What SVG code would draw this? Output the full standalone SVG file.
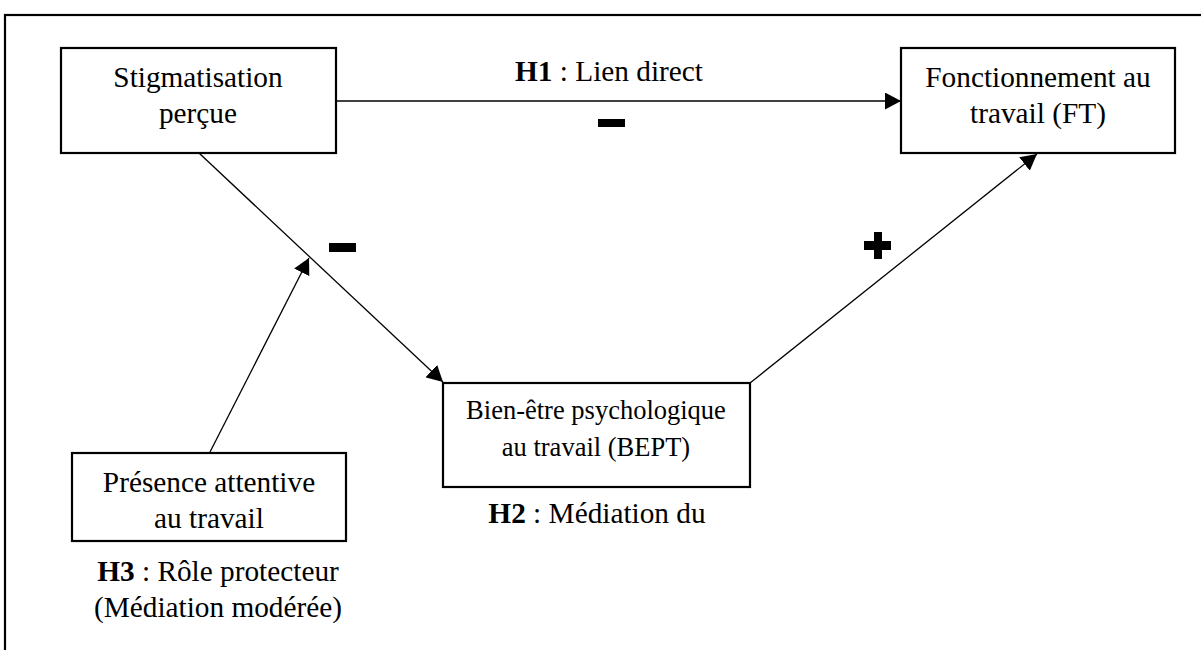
<svg xmlns="http://www.w3.org/2000/svg" width="1201" height="650" viewBox="0 0 1201 650">
<style>
.box{fill:#fff;stroke:#000;stroke-width:2.2}
.t{font-family:"Liberation Serif","Times New Roman",serif;font-size:29.3px;fill:#000;text-anchor:middle}
.ts{font-family:"Liberation Serif","Times New Roman",serif;font-size:26.5px;fill:#000;text-anchor:middle}
.b{font-weight:bold}
.c{stroke:#000;stroke-width:1.3;fill:none}
</style>
<defs>
<marker id="ah" viewBox="0 0 16 17" refX="16" refY="8.5" markerWidth="16" markerHeight="17" markerUnits="userSpaceOnUse" orient="auto">
<path d="M0,0 L16,8.5 L0,17 Z" fill="#000"/>
</marker>
</defs>
<rect width="1201" height="650" fill="#fff"/>
<rect x="5" y="15" width="1220" height="700" fill="none" stroke="#000" stroke-width="2.2"/>
<g id="connectors">
<line class="c" x1="337" y1="101" x2="901" y2="101" marker-end="url(#ah)"/>
<line class="c" x1="199" y1="153" x2="443" y2="382" marker-end="url(#ah)"/>
<line class="c" x1="210" y1="452" x2="309" y2="258" marker-end="url(#ah)"/>
<line class="c" x1="750" y1="383" x2="1037" y2="154" marker-end="url(#ah)"/>
<rect x="598" y="119" width="27" height="8" fill="#000"/>
<rect x="329" y="243" width="27" height="9" fill="#000"/>
<path d="M874,232 h8 v9 h9 v9 h-9 v9 h-8 v-9 h-10 v-9 h10 z" fill="#000"/>
<text class="t" x="609" y="81"><tspan class="b">H1</tspan> : Lien direct</text>
</g>
<g id="stig">
<rect class="box" x="61" y="48" width="275" height="105"/>
<text class="t" x="198" y="87">Stigmatisation</text>
<text class="t" x="198" y="123">perçue</text>
</g>
<g id="ft">
<rect class="box" x="901" y="48" width="274" height="105"/>
<text class="t" x="1038" y="87">Fonctionnement au</text>
<text class="t" x="1038" y="123">travail (FT)</text>
</g>
<g id="bept">
<rect class="box" x="443" y="383" width="307" height="104"/>
<text class="ts" x="596" y="419">Bien-être psychologique</text>
<text class="ts" x="596" y="456">au travail (BEPT)</text>
<text class="t" x="597" y="523"><tspan class="b">H2</tspan> : Médiation du</text>
</g>
<g id="presence">
<rect class="box" x="72" y="453" width="274" height="88"/>
<text class="t" x="209" y="492">Présence attentive</text>
<text class="t" x="209" y="528">au travail</text>
<text class="t" x="218" y="581"><tspan class="b">H3</tspan> : Rôle protecteur</text>
<text class="t" x="218" y="617">(Médiation modérée)</text>
</g>
</svg>
